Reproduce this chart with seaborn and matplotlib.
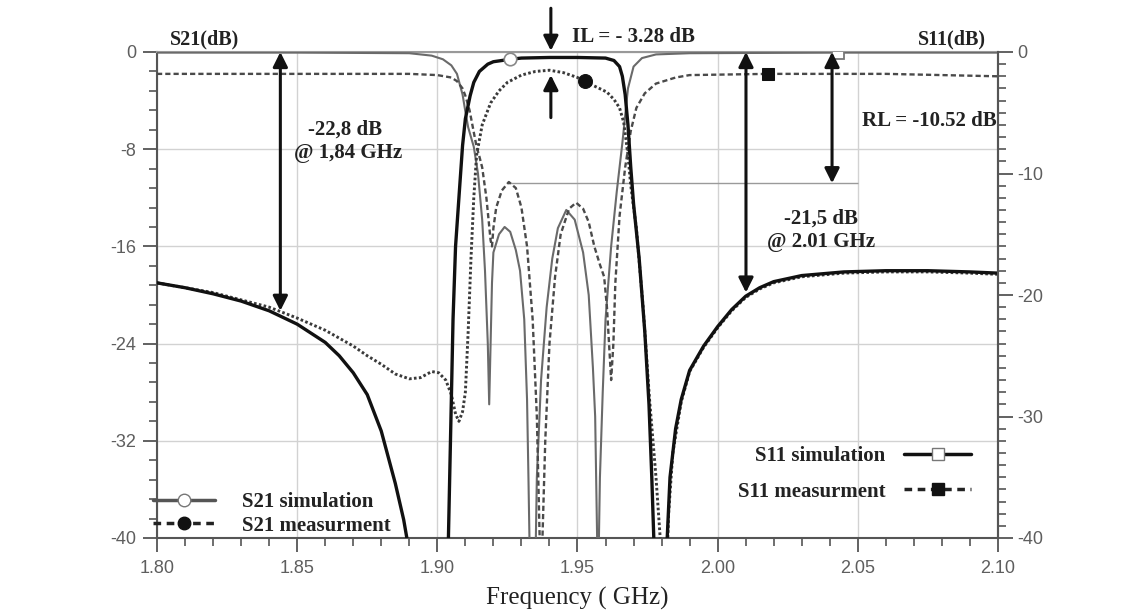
import numpy as np
import pandas as pd
import matplotlib
matplotlib.use("Agg")
import matplotlib.pyplot as plt
from matplotlib.ticker import MultipleLocator, FixedLocator, FixedFormatter
from matplotlib.lines import Line2D
import seaborn as sns

# ---------------- data ----------------
freq_s21_sim = [1.800, 1.810, 1.820, 1.830, 1.840, 1.850, 1.860, 1.865, 1.870, 1.875, 1.880, 1.885, 1.888, 1.8895, 1.891,
                1.9035, 1.9045, 1.905, 1.9056, 1.9065, 1.908, 1.909, 1.910, 1.9117, 1.913, 1.915, 1.918, 1.920, 1.926, 1.930,
                1.940, 1.950, 1.960, 1.963, 1.965, 1.966, 1.967, 1.968, 1.969, 1.970, 1.972, 1.974, 1.9755, 1.9765, 1.9775,
                1.979, 1.981, 1.982, 1.983, 1.985, 1.987, 1.990, 1.995, 2.000, 2.005, 2.010, 2.015, 2.020, 2.030, 2.045,
                2.060, 2.075, 2.090, 2.100]
s21_sim = [-19.0, -19.4, -19.9, -20.5, -21.3, -22.4, -23.9, -25.0, -26.4, -28.2, -31.2, -35.5, -38.5, -40.5, -45,
           -45, -34, -28.6, -22, -16, -11, -7.7, -5.5, -3.6, -2.5, -1.6, -1.0, -0.8, -0.6, -0.5,
           -0.45, -0.45, -0.5, -0.7, -1.2, -2.0, -3.5, -6.0, -9.5, -12.5, -17, -23, -29, -35, -42,
           -50, -50, -40, -35, -31, -28.6, -26.2, -24.2, -22.6, -21.2, -20.1, -19.4, -18.9, -18.4, -18.1,
           -18.0, -18.0, -18.1, -18.2]

freq_s21_meas = [1.800, 1.820, 1.840, 1.850, 1.860, 1.870, 1.875, 1.880, 1.885, 1.890, 1.894, 1.898, 1.9005, 1.903,
                 1.905, 1.9065, 1.9077, 1.909, 1.910, 1.911, 1.912, 1.913, 1.914, 1.916, 1.919, 1.922, 1.925, 1.930,
                 1.935, 1.940, 1.945, 1.950, 1.9525, 1.956, 1.9605, 1.963, 1.965, 1.9665, 1.968, 1.969, 1.971, 1.9734,
                 1.9757, 1.978, 1.9795, 1.981, 1.9815, 1.9825, 1.984, 1.987, 1.990, 1.995, 2.000, 2.005, 2.010, 2.015,
                 2.020, 2.030, 2.045, 2.060, 2.075, 2.090, 2.100]
s21_meas = [-19.0, -19.8, -21.0, -21.9, -22.9, -24.2, -25.0, -25.7, -26.5, -26.9, -26.8, -26.3, -26.4, -27.0,
            -28.2, -29.8, -30.4, -29.6, -28.0, -23, -17, -12, -8.5, -6.0, -4.2, -3.2, -2.5, -1.9,
            -1.6, -1.5, -1.7, -2.1, -2.4, -2.8, -3.3, -3.9, -4.6, -5.8, -8.5, -11, -14.5, -21,
            -28.6, -35, -40, -45, -45, -38, -33, -28.8, -26.3, -24.3, -22.7, -21.3, -20.2, -19.5,
            -19.0, -18.5, -18.2, -18.1, -18.1, -18.2, -18.3]

freq_s11_sim = [1.800, 1.850, 1.890, 1.898, 1.902, 1.905, 1.907, 1.909, 1.910, 1.911, 1.912, 1.913, 1.9145, 1.916,
                1.917, 1.918, 1.9185, 1.919, 1.9195, 1.920, 1.922, 1.924, 1.926, 1.928, 1.9295, 1.931, 1.932, 1.9325,
                1.933, 1.935, 1.9355, 1.937, 1.939, 1.941, 1.943, 1.946, 1.949, 1.952, 1.954, 1.9555, 1.9563, 1.957,
                1.9575, 1.958, 1.959, 1.960, 1.962, 1.964, 1.966, 1.968, 1.970, 1.973, 1.978, 1.990, 2.043, 2.100]
s11_sim = [-0.05, -0.05, -0.1, -0.3, -0.6, -1.1, -1.8, -3.5, -4.9, -6.2, -7.0, -7.8, -10, -13.8,
           -18, -24, -29, -24, -19, -16.5, -15, -14.4, -14.8, -16.3, -18, -22, -28.6, -35,
           -42, -42, -35, -27, -21, -17, -14.5, -13, -13.8, -16.5, -20, -26, -30, -40,
           -42, -35, -28, -22, -16, -11.5, -7.5, -3.0, -1.2, -0.5, -0.2, -0.1, -0.05, -0.05]

freq_s11_meas = [1.800, 1.850, 1.890, 1.900, 1.905, 1.907, 1.909, 1.910, 1.9115, 1.9125, 1.914, 1.915, 1.916, 1.9175,
                 1.919, 1.9195, 1.920, 1.921, 1.923, 1.9255, 1.928, 1.930, 1.932, 1.934, 1.9355, 1.9365, 1.937,
                 1.9375, 1.9385, 1.940, 1.942, 1.944, 1.947, 1.9495, 1.952, 1.954, 1.956, 1.958, 1.9595, 1.9605,
                 1.9615, 1.962, 1.9628, 1.9635, 1.965, 1.967, 1.969, 1.971, 1.974, 1.978, 1.985, 1.990, 2.018,
                 2.060, 2.080, 2.100]
s11_meas = [-1.8, -1.8, -1.8, -1.9, -2.1, -2.4, -3.0, -3.6, -4.8, -6.0, -7.8, -8.6, -9.5, -12,
            -15.5, -16, -14.5, -12.8, -11.4, -10.7, -11.2, -12.8, -16, -22, -30, -40, -44,
            -40, -32, -24, -18.5, -15, -12.9, -12.4, -12.9, -14, -16, -17.5, -18.5, -21,
            -25, -27, -24, -19, -13.5, -9.5, -6.5, -4.6, -3.4, -2.6, -2.1, -1.9, -1.8,
            -1.8, -1.9, -2.0]

# single symbol positions on each curve (frequency)
mark_s21_sim = 1.926
mark_s21_meas = 1.9525
mark_s11_sim = 2.043
mark_s11_meas = 2.018

x_ticks = [1.80, 1.85, 1.90, 1.95, 2.00, 2.05, 2.10]
x_tick_labels = ["1.80", "1.85", "1.90", "1.95", "2.00", "2.05", "2.10"]
left_ticks = [0, -8, -16, -24, -32, -40]
left_tick_labels = ["0", "-8", "-16", "-24", "-32", "-40"]
right_ticks = [0, -10, -20, -30, -40]
right_tick_labels = ["0", "-10", "-20", "-30", "-40"]

legend_s21 = ["S21 simulation", "S21 measurment"]
legend_s11 = ["S11 simulation", "S11 measurment"]

# annotation values
il_text = "IL = - 3.28 dB"
rl_text = "RL = -10.52 dB"
rl_level = -10.8
rl_x0, rl_x1 = 1.925, 2.05
left_arrow_f, left_arrow_db = 1.844, -21.3
right_arrow_f, right_arrow_db = 2.0101, -19.8
rl_arrow_f = 2.0408
il_arrow_f = 1.9405

# ---------------- style ----------------
sns.set_style("white")
plt.rcParams['font.family'] = ['Liberation Sans', 'DejaVu Sans']
SERIF = ['Liberation Serif', 'DejaVu Serif']

fig = plt.figure(figsize=(11.37, 6.12), dpi=100)
ax = fig.add_axes([157 / 1137, 1 - 538 / 612, 841 / 1137, 486 / 612])

ax.set_xlim(1.80, 2.10)
ax.set_ylim(-40, 0)
ax.grid(True, which='major', color='#d2d2d2', lw=1.0, zorder=0)

def idx(lst, v):
    return [int(np.argmin(np.abs(np.array(lst) - v)))]

# S11 simulation (thin gray solid)
sns.lineplot(x=freq_s11_sim, y=s11_sim, ax=ax, color='#6a6a6a', lw=1.5, sort=False,
             marker='s', markevery=idx(freq_s11_sim, mark_s11_sim), markersize=8,
             markerfacecolor='white', markeredgecolor='#777777', markeredgewidth=1.3, zorder=3)
# S11 measurement (gray dashed)
sns.lineplot(x=freq_s11_meas, y=s11_meas, ax=ax, color='#4a4a4a', lw=1.7, sort=False, zorder=3)
ax.lines[-1].set_dashes((2.2, 1.3))
ax.lines[-1].set_marker('s')
ax.lines[-1].set_markevery(idx(freq_s11_meas, mark_s11_meas))
ax.lines[-1].set_markersize(8)
ax.lines[-1].set_markerfacecolor('#111111')
ax.lines[-1].set_markeredgecolor('#111111')
# S21 measurement (dark dotted)
sns.lineplot(x=freq_s21_meas, y=s21_meas, ax=ax, color='#3a3a3a', lw=2.1, sort=False, zorder=4)
ax.lines[-1].set_dashes((0.9, 0.8))
ax.lines[-1].set_marker('o')
ax.lines[-1].set_markevery(idx(freq_s21_meas, mark_s21_meas))
ax.lines[-1].set_markersize(10)
ax.lines[-1].set_markerfacecolor('#111111')
ax.lines[-1].set_markeredgecolor('#111111')
# S21 simulation (thick black solid)
sns.lineplot(x=freq_s21_sim, y=s21_sim, ax=ax, color='#111111', lw=2.4, sort=False, zorder=5,
             marker='o', markevery=idx(freq_s21_sim, mark_s21_sim), markersize=9,
             markerfacecolor='white', markeredgecolor='#888888', markeredgewidth=1.2)

# RL reference line
ax.hlines(rl_level, rl_x0, rl_x1, color='#9a9a9a', lw=1.0, zorder=2)

# spines & ticks
for s in ['left', 'bottom', 'right']:
    ax.spines[s].set_color('#555555')
    ax.spines[s].set_linewidth(1.5)
ax.spines['top'].set_color('#999999')
ax.spines['top'].set_linewidth(1.5)

ax.xaxis.set_major_locator(FixedLocator(x_ticks))
ax.xaxis.set_major_formatter(FixedFormatter(x_tick_labels))
ax.xaxis.set_minor_locator(MultipleLocator(0.01))
ax.yaxis.set_major_locator(FixedLocator(left_ticks))
ax.yaxis.set_major_formatter(FixedFormatter(left_tick_labels))
ax.yaxis.set_minor_locator(MultipleLocator(1.6))
ax.tick_params(which='major', direction='out', length=10, width=1.3, color='#555555',
               labelsize=13, labelcolor='#5e5e5e', left=True, bottom=True)
ax.tick_params(axis='x', which='major', pad=6)
ax.tick_params(axis='y', which='major', pad=5)
ax.tick_params(which='minor', direction='out', length=6, width=1.2, color='#555555', left=True, bottom=True)

ax2 = ax.twinx()
ax2.set_ylim(-40, 0)
ax2.yaxis.set_major_locator(FixedLocator(right_ticks))
ax2.yaxis.set_major_formatter(FixedFormatter(right_tick_labels))
ax2.yaxis.set_minor_locator(MultipleLocator(1))
ax2.tick_params(which='major', direction='out', length=11, width=1.3, color='#555555',
                labelsize=13, labelcolor='#5e5e5e', pad=3)
ax2.tick_params(which='minor', direction='out', length=6, width=1.2, color='#555555')
for s in ['left', 'bottom', 'top']:
    ax2.spines[s].set_visible(False)
ax2.spines['right'].set_color('#555555')
ax2.spines['right'].set_linewidth(1.5)

ax.set_xlabel("Frequency ( GHz)", family=SERIF, fontsize=18, color='#222222', labelpad=7)

# axis titles
ax.text(1.817, 1.0, "S21(dB)", family=SERIF, weight='bold', fontsize=14.5, ha='center', va='center',
        color='#222222', clip_on=False)
ax.text(2.0836, 1.0, "S11(dB)", family=SERIF, weight='bold', fontsize=14.5, ha='center', va='center',
        color='#222222', clip_on=False)

# annotations
bold = dict(family=SERIF, weight='bold', fontsize=15, color='#222222')
ax.text(1.948, 1.25, il_text, ha='left', va='center', clip_on=False, **bold)
ax.text(1.867, -6.4, "-22,8 dB", ha='center', va='center', **bold)
ax.text(1.868, -8.3, "@ 1,84 GHz", ha='center', va='center', **bold)
ax.text(2.037, -13.7, "-21,5 dB", ha='center', va='center', **bold)
ax.text(2.037, -15.6, "@ 2.01 GHz", ha='center', va='center', **bold)
ax.text(2.0995, -5.7, rl_text, ha='right', va='center', **bold)

arrow2 = dict(arrowstyle='<|-|>', color='#111111', lw=2.2, mutation_scale=22, shrinkA=0, shrinkB=0)
arrow1 = dict(arrowstyle='-|>', color='#111111', lw=2.2, mutation_scale=22, shrinkA=0, shrinkB=0)
ax.annotate("", xy=(left_arrow_f, left_arrow_db), xytext=(left_arrow_f, 0), arrowprops=arrow2, zorder=6)
ax.annotate("", xy=(right_arrow_f, right_arrow_db), xytext=(right_arrow_f, 0), arrowprops=arrow2, zorder=6)
ax.annotate("", xy=(rl_arrow_f, rl_level), xytext=(rl_arrow_f, 0), arrowprops=arrow2, zorder=6)
ax.annotate("", xy=(il_arrow_f, 0.1), xytext=(il_arrow_f, 3.6), arrowprops=arrow1,
            annotation_clip=False, zorder=6)
ax.annotate("", xy=(il_arrow_f, -1.9), xytext=(il_arrow_f, -5.4), arrowprops=arrow1, zorder=6)

# legends
h_s21 = [Line2D([], [], color='#555555', lw=2.5, marker='o', markersize=9, markerfacecolor='white',
                markeredgecolor='#777777'),
         Line2D([], [], color='#222222', lw=2.5, ls=(0, (2.2, 1.6)), marker='o', markersize=9,
                markerfacecolor='#111111', markeredgecolor='#111111')]
h_s11 = [Line2D([], [], color='#111111', lw=2.5, marker='s', markersize=9, markerfacecolor='white',
                markeredgecolor='#777777'),
         Line2D([], [], color='#222222', lw=2.5, ls=(0, (2.2, 1.6)), marker='s', markersize=9,
                markerfacecolor='#111111', markeredgecolor='#111111')]
leg_font = dict(family=SERIF, weight='bold', size=15)
leg1 = ax.legend(h_s21, legend_s21, loc='lower left', bbox_to_anchor=(-0.005, 0.005), frameon=False,
                 prop=leg_font, handlelength=3.0, handletextpad=1.3, labelspacing=0.15,
                 borderpad=0.0, borderaxespad=0.0)
for t in leg1.get_texts():
    t.set_color('#222222')
ax.add_artist(leg1)
leg2 = ax.legend(h_s11, legend_s11, loc='lower right', bbox_to_anchor=(0.968, 0.075), frameon=False,
                 prop=leg_font, handlelength=3.2, handletextpad=0.9, labelspacing=0.75,
                 borderpad=0.0, borderaxespad=0.0, markerfirst=False)
for t in leg2.get_texts():
    t.set_color('#222222')

fig.savefig("out.png", dpi=100, facecolor='white')
